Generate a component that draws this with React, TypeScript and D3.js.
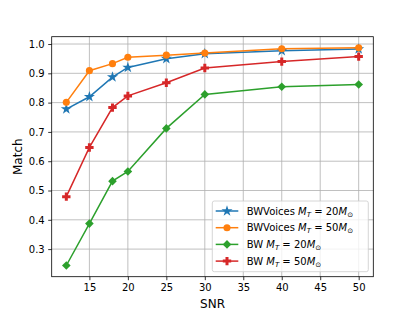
import React, { useEffect, useRef } from 'react';
import * as d3 from 'd3';

const snr = [12, 15, 18, 20, 25, 30, 40, 50];
const bwVoices20 = [0.778, 0.82, 0.887, 0.92, 0.95, 0.967, 0.977, 0.983];
const bwVoices50 = [0.801, 0.909, 0.933, 0.955, 0.962, 0.969, 0.984, 0.987];
const bw20 = [0.244, 0.387, 0.532, 0.565, 0.712, 0.828, 0.854, 0.862];
const bw50 = [0.479, 0.647, 0.783, 0.823, 0.868, 0.918, 0.94, 0.957];
const xTicks = [15, 20, 25, 30, 35, 40, 45, 50];
const yTicks = [0.3, 0.4, 0.5, 0.6, 0.7, 0.8, 0.9, 1.0];

const series = [
  { prefix: 'BWVoices', mass: '20', values: bwVoices20, color: '#1f77b4', marker: 'star' },
  { prefix: 'BWVoices', mass: '50', values: bwVoices50, color: '#ff7f0e', marker: 'circle' },
  { prefix: 'BW', mass: '20', values: bw20, color: '#2ca02c', marker: 'diamond' },
  { prefix: 'BW', mass: '50', values: bw50, color: '#d62728', marker: 'plus' },
];

const markerPath = (kind: string) => {
  if (kind === 'star') return d3.symbol(d3.symbolStar, 38)()!;
  if (kind === 'circle') return d3.symbol(d3.symbolCircle, 40)()!;
  if (kind === 'diamond') return 'M0,-4.3L4.3,0L0,4.3L-4.3,0Z';
  // filled plus
  const a = 4.2, b = 1.5;
  return `M${-b},${-a}L${b},${-a}L${b},${-b}L${a},${-b}L${a},${b}L${b},${b}L${b},${a}L${-b},${a}L${-b},${b}L${-a},${b}L${-a},${-b}L${-b},${-b}Z`;
};

const App = () => {
  const ref = useRef<SVGSVGElement>(null);

  useEffect(() => {
    const W = 415, H = 311;
    const margin = { top: 36.7, right: 415 - 373.3, bottom: 311 - 276.7, left: 51.7 };
    const svg = d3.select(ref.current);
    svg.selectAll('*').remove();
    svg.attr('width', W).attr('height', H);

    const x = d3.scaleLinear().domain([10.1, 51.9]).range([margin.left, W - margin.right]);
    const y = d3.scaleLinear().domain([0.2058, 1.025]).range([H - margin.bottom, margin.top]);

    const font = 'DejaVu Sans, sans-serif';

    // grid
    const grid = svg.append('g');
    grid.selectAll('.vg').data(xTicks).enter().append('line')
      .attr('x1', d => x(d)).attr('x2', d => x(d))
      .attr('y1', margin.top).attr('y2', H - margin.bottom)
      .attr('stroke', '#b0b0b0').attr('stroke-width', 0.8);
    grid.selectAll('.hg').data(yTicks).enter().append('line')
      .attr('x1', margin.left).attr('x2', W - margin.right)
      .attr('y1', d => y(d)).attr('y2', d => y(d))
      .attr('stroke', '#b0b0b0').attr('stroke-width', 0.8);

    // lines + markers
    series.forEach(s => {
      const pts = snr.map((v, i) => [v, s.values[i]] as [number, number]);
      svg.append('path')
        .datum(pts)
        .attr('fill', 'none')
        .attr('stroke', s.color)
        .attr('stroke-width', 1.5)
        .attr('d', d3.line<[number, number]>().x(d => x(d[0])).y(d => y(d[1])));
      svg.append('g').selectAll('path').data(pts).enter().append('path')
        .attr('d', markerPath(s.marker))
        .attr('transform', d => `translate(${x(d[0])},${y(d[1])})`)
        .attr('fill', s.color);
    });

    // axes
    const xAxis = svg.append('g')
      .attr('transform', `translate(0,${H - margin.bottom})`)
      .call(d3.axisBottom(x).tickValues(xTicks).tickSize(3.5).tickPadding(3.5).tickFormat(d3.format('d')));
    const yAxis = svg.append('g')
      .attr('transform', `translate(${margin.left},0)`)
      .call(d3.axisLeft(y).tickValues(yTicks).tickSize(3.5).tickPadding(3.5).tickFormat(d3.format('.1f')));
    [xAxis, yAxis].forEach(a => {
      a.select('.domain').remove();
      a.selectAll('text').attr('font-family', font).attr('font-size', 10).attr('fill', '#000');
      a.selectAll('line').attr('stroke', '#000').attr('stroke-width', 0.8);
    });

    svg.append('rect')
      .attr('x', margin.left).attr('y', margin.top)
      .attr('width', W - margin.right - margin.left)
      .attr('height', H - margin.bottom - margin.top)
      .attr('fill', 'none').attr('stroke', '#000').attr('stroke-width', 0.8);

    // axis labels
    svg.append('text')
      .attr('x', (margin.left + W - margin.right) / 2).attr('y', 308)
      .attr('text-anchor', 'middle').attr('font-family', font).attr('font-size', 12)
      .text('SNR');
    svg.append('text')
      .attr('transform', `translate(22,${(margin.top + H - margin.bottom) / 2}) rotate(-90)`)
      .attr('text-anchor', 'middle').attr('font-family', font).attr('font-size', 12)
      .text('Match');

    // legend
    const lg = svg.append('g');
    lg.append('rect')
      .attr('x', 212.3).attr('y', 201).attr('width', 156).attr('height', 70.7)
      .attr('rx', 2).attr('fill', 'rgba(255,255,255,0.8)')
      .attr('stroke', '#cccccc').attr('stroke-width', 0.8);
    series.forEach((s, i) => {
      const cy = 211 + i * 16.7;
      lg.append('line')
        .attr('x1', 215.7).attr('x2', 238.3).attr('y1', cy).attr('y2', cy)
        .attr('stroke', s.color).attr('stroke-width', 1.5);
      lg.append('path')
        .attr('d', markerPath(s.marker))
        .attr('transform', `translate(227,${cy})`)
        .attr('fill', s.color);
      const t = lg.append('text')
        .attr('x', 246.7).attr('y', cy + 3.6)
        .attr('font-family', font).attr('font-size', 10).attr('fill', '#000');
      t.append('tspan').text(s.prefix + ' ');
      t.append('tspan').attr('font-style', 'italic').text('M');
      t.append('tspan').attr('font-style', 'italic').attr('font-size', 7).attr('dy', 2).text('T');
      t.append('tspan').attr('dy', -2).text(' = ' + s.mass);
      t.append('tspan').attr('font-style', 'italic').text('M');
      t.append('tspan').attr('font-size', 7).attr('dy', 2).text('\u2299');
    });
  }, []);

  return <svg ref={ref} style={{ position: 'absolute', left: 0, top: 0 }}></svg>;
};

export default App;
